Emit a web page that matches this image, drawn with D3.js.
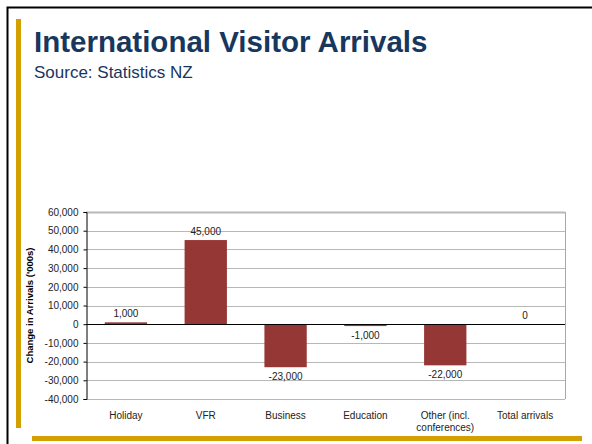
<!DOCTYPE html>
<html>
<head>
<meta charset="utf-8">
<script src="https://cdn.jsdelivr.net/npm/d3@7"></script>
<style>
  html, body { margin: 0; padding: 0; background: #fff; }
  svg { display: block; font-family: "Liberation Sans", Arial, sans-serif; }
</style>
</head>
<body>
<svg id="chart"></svg>
<script>
// chart data
const categories = ["Holiday", "VFR", "Business", "Education", "Other (incl.\nconferences)", "Total arrivals"];
const changes = [1000, 45000, -23000, -1000, -22000, 0];
const yTicks = [-40000, -30000, -20000, -10000, 0, 10000, 20000, 30000, 40000, 50000, 60000];

const width = 592;
const height = 444;
const svg = d3.select("#chart").attr("width", width).attr("height", height);

// plain hyphen for negatives, like the original
const fmt = d => d3.format(",")(d).replace("\u2212", "-");

// slide decoration: black frame, gold rules
svg.append("path")
  .attr("d", "M7.5,444 V7.5 H592")
  .attr("fill", "none")
  .attr("stroke", "#000")
  .attr("stroke-width", 2);
svg.append("rect").attr("x", 16).attr("y", 19).attr("width", 5).attr("height", 409).attr("fill", "#D4A000");
svg.append("rect").attr("x", 32).attr("y", 436).attr("width", 550).attr("height", 5).attr("fill", "#D4A000");

// title block
svg.append("text")
  .attr("x", 34).attr("y", 52)
  .attr("font-size", 29.5).attr("font-weight", "bold")
  .attr("fill", "#17375E")
  .text("International Visitor Arrivals");
svg.append("text")
  .attr("x", 34).attr("y", 78)
  .attr("font-size", 17)
  .attr("fill", "#17375E")
  .text("Source: Statistics NZ");

// plot area
const plot = { left: 86, right: 565, top: 212, bottom: 399 };

const x = d3.scaleBand()
  .domain(categories)
  .range([plot.left, plot.right])
  .paddingInner(0.47)
  .paddingOuter(0.235);

const y = d3.scaleLinear()
  .domain([-40000, 60000])
  .range([plot.bottom, plot.top]);

// gridlines
svg.append("g")
  .selectAll("line")
  .data(yTicks)
  .join("line")
  .attr("x1", plot.left).attr("x2", plot.right)
  .attr("y1", d => Math.round(y(d)) + 0.5).attr("y2", d => Math.round(y(d)) + 0.5)
  .attr("stroke", "#b8b8b8")
  .attr("stroke-width", d => d === 60000 ? 2 : 1);

// right border
svg.append("line")
  .attr("x1", plot.right + 0.5).attr("x2", plot.right + 0.5)
  .attr("y1", plot.top).attr("y2", plot.bottom)
  .attr("stroke", "#a8a8a8");

// bars
svg.append("g")
  .selectAll("rect")
  .data(changes)
  .join("rect")
  .attr("x", (d, i) => x(categories[i]))
  .attr("width", x.bandwidth())
  .attr("y", d => y(Math.max(0, d)))
  .attr("height", d => Math.abs(y(d) - y(0)))
  .attr("fill", "#953735");

// zero line
svg.append("line")
  .attr("x1", plot.left).attr("x2", plot.right)
  .attr("y1", Math.round(y(0)) + 0.5).attr("y2", Math.round(y(0)) + 0.5)
  .attr("stroke", "#000");

// y axis
const yAxis = d3.axisLeft(y)
  .tickValues(yTicks)
  .tickSize(3)
  .tickPadding(5)
  .tickFormat(fmt);
const ya = svg.append("g")
  .attr("transform", `translate(${plot.left + 0.5},0)`)
  .call(yAxis);
ya.select(".domain").attr("stroke", "#000");
ya.selectAll(".tick line").attr("stroke", "#000");
ya.selectAll(".tick text")
  .attr("font-family", "Liberation Sans, Arial, sans-serif")
  .attr("font-size", 10)
  .attr("fill", "#222");

// axis title
svg.append("text")
  .attr("transform", `translate(33,${(plot.top + plot.bottom) / 2}) rotate(-90)`)
  .attr("text-anchor", "middle")
  .attr("font-size", 9.5)
  .attr("font-weight", "bold")
  .attr("fill", "#000")
  .text("Change in Arrivals ('000s)");

// category labels
svg.append("g")
  .selectAll("text")
  .data(categories)
  .join("text")
  .attr("x", d => x(d) + x.bandwidth() / 2)
  .attr("y", 419)
  .attr("text-anchor", "middle")
  .attr("font-size", 10)
  .attr("fill", "#222")
  .each(function (d) {
    const lines = d.split("\n");
    d3.select(this).selectAll("tspan")
      .data(lines)
      .join("tspan")
      .attr("x", x(d) + x.bandwidth() / 2)
      .attr("dy", (l, i) => i === 0 ? 0 : 12)
      .text(l => l);
  });

// value labels
svg.append("g")
  .selectAll("text")
  .data(changes)
  .join("text")
  .attr("x", (d, i) => x(categories[i]) + x.bandwidth() / 2)
  .attr("y", d => d >= 0 ? y(d) - 5 : y(d) + 13)
  .attr("text-anchor", "middle")
  .attr("font-size", 10)
  .attr("fill", "#222")
  .text(fmt);
</script>
</body>
</html>
